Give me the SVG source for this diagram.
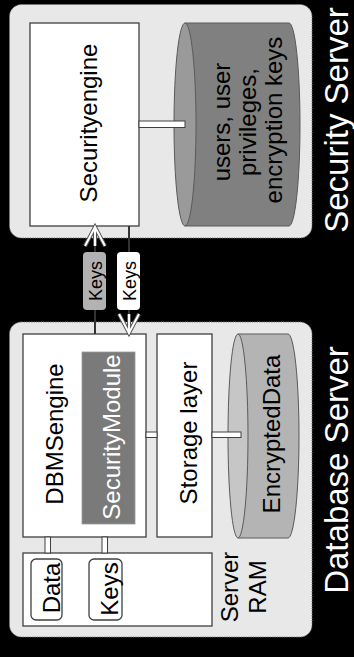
<svg xmlns="http://www.w3.org/2000/svg" width="354" height="657" viewBox="0 0 354 657">
  <style>
    text { font-family: "Liberation Sans", Arial, sans-serif; font-size: 24px; fill: #000; text-anchor: middle; }
    .title { font-size: 33px; fill: #fff; }
    .light { fill: #fff; }
    .tagtext { font-size: 18px; }
    .group { fill: #e8e8e8; stroke: #7a7a7a; stroke-width: 1; stroke-dasharray: 1.2 1.2; }
    .box { fill: #fff; stroke: #404040; stroke-width: 1.3; }
    .bar { fill: #fff; stroke: #404040; stroke-width: 1; }
    .cyl { stroke: #5a5a5a; stroke-width: 1; }
    .link { stroke: #333; stroke-width: 2; fill: none; }
  </style>
  <defs>
    <marker id="openArrow" markerUnits="userSpaceOnUse" orient="auto" refX="0" refY="0" markerWidth="30" markerHeight="30" viewBox="-25 -15 30 30" overflow="visible">
      <path d="M-19,-10 L0,0 L-19,10 M-19,0 L0,0" fill="none" stroke="#555" stroke-width="4" stroke-linejoin="miter"/>
      <path d="M-19,-10 L0,0 L-19,10 M-19,0 L0,0" fill="none" stroke="#fff" stroke-width="2" stroke-linejoin="miter"/>
    </marker>
  </defs>

  <rect width="354" height="657" fill="#000"/>

  <!-- Security server -->
  <g id="security-server">
    <rect class="group" x="9.5" y="4.5" width="302.5" height="233.5" rx="12"/>
    <text class="title" transform="translate(348,120) rotate(-90)">Security Server</text>
  </g>

  <g id="security-engine">
    <rect class="box" x="30" y="23" width="109" height="203"/>
    <text transform="translate(97,123) rotate(-90)">Securityengine</text>
  </g>

  <g id="security-store">
    <path class="cyl" d="M185,23 L289,23 A11,101.5 0 0 1 289,226 L185,226 Z" fill="#808080"/>
    <ellipse class="cyl" cx="185" cy="124.5" rx="11" ry="101.5" fill="#9a9a9a"/>
    <text transform="translate(230,122) rotate(-90)">users, user</text>
    <text transform="translate(256,122) rotate(-90)">privileges,</text>
    <text transform="translate(282,120) rotate(-90)">encryption keys</text>
  </g>

  <!-- Database server -->
  <g id="database-server">
    <rect class="group" x="9.5" y="322" width="302.5" height="315" rx="12"/>
    <text class="title" transform="translate(348,470) rotate(-90)">Database Server</text>
  </g>

  <g id="dbms-engine">
    <rect class="box" x="23" y="334" width="123" height="203"/>
    <text transform="translate(63,434) rotate(-90)">DBMSengine</text>
  </g>

  <g id="security-module">
    <rect x="82" y="352" width="53" height="172" fill="#7a7a7a" stroke="#999" stroke-width="0.8"/>
    <text class="light" transform="translate(120,437) rotate(-90)">SecurityModule</text>
  </g>

  <g id="storage-layer">
    <rect class="box" x="157" y="334" width="55" height="203"/>
    <text transform="translate(197,433) rotate(-90)">Storage layer</text>
  </g>

  <g id="encrypted-data">
    <path class="cyl" d="M238,334 L288,334 A11,102 0 0 1 288,538 L238,538 Z" fill="#b4b4b4"/>
    <ellipse class="cyl" cx="238" cy="436" rx="10" ry="102" fill="#c6c6c6"/>
    <text transform="translate(280,434) rotate(-90)">EncryptedData</text>
  </g>

  <g id="server-ram">
    <rect class="box" x="23" y="553" width="189" height="73"/>
    <text transform="translate(238,587) rotate(-90)">Server</text>
    <text transform="translate(266,587) rotate(-90)">RAM</text>
  </g>

  <g id="ram-data">
    <rect class="box" x="31" y="559" width="31" height="61" rx="5"/>
    <text transform="translate(60,588) rotate(-90)">Data</text>
  </g>

  <g id="ram-keys">
    <rect class="box" x="89" y="559" width="33" height="61" rx="5"/>
    <text transform="translate(118,589) rotate(-90)">Keys</text>
  </g>

  <!-- Connectors -->
  <g id="connectors">
    <rect class="bar" x="139" y="121" width="46" height="6.5"/>
    <rect class="bar" x="146" y="432" width="11" height="5.5"/>
    <rect class="bar" x="212" y="432" width="29" height="5.5"/>
    <rect class="bar" x="45" y="537" width="5.5" height="16"/>
    <rect class="bar" x="102" y="537" width="5.5" height="16"/>

    <line class="link" x1="95" y1="334" x2="95" y2="227" marker-end="url(#openArrow)"/>
    <line class="link" x1="129" y1="226" x2="129" y2="333" marker-end="url(#openArrow)"/>

    <rect x="83" y="252" width="23" height="58" rx="4" fill="#b2b2b2"/>
    <text class="tagtext" transform="translate(101.5,281) rotate(-90)">Keys</text>
    <rect x="117" y="252" width="23" height="58" rx="4" fill="#fff"/>
    <text class="tagtext" transform="translate(135.5,281) rotate(-90)">Keys</text>
  </g>
</svg>
